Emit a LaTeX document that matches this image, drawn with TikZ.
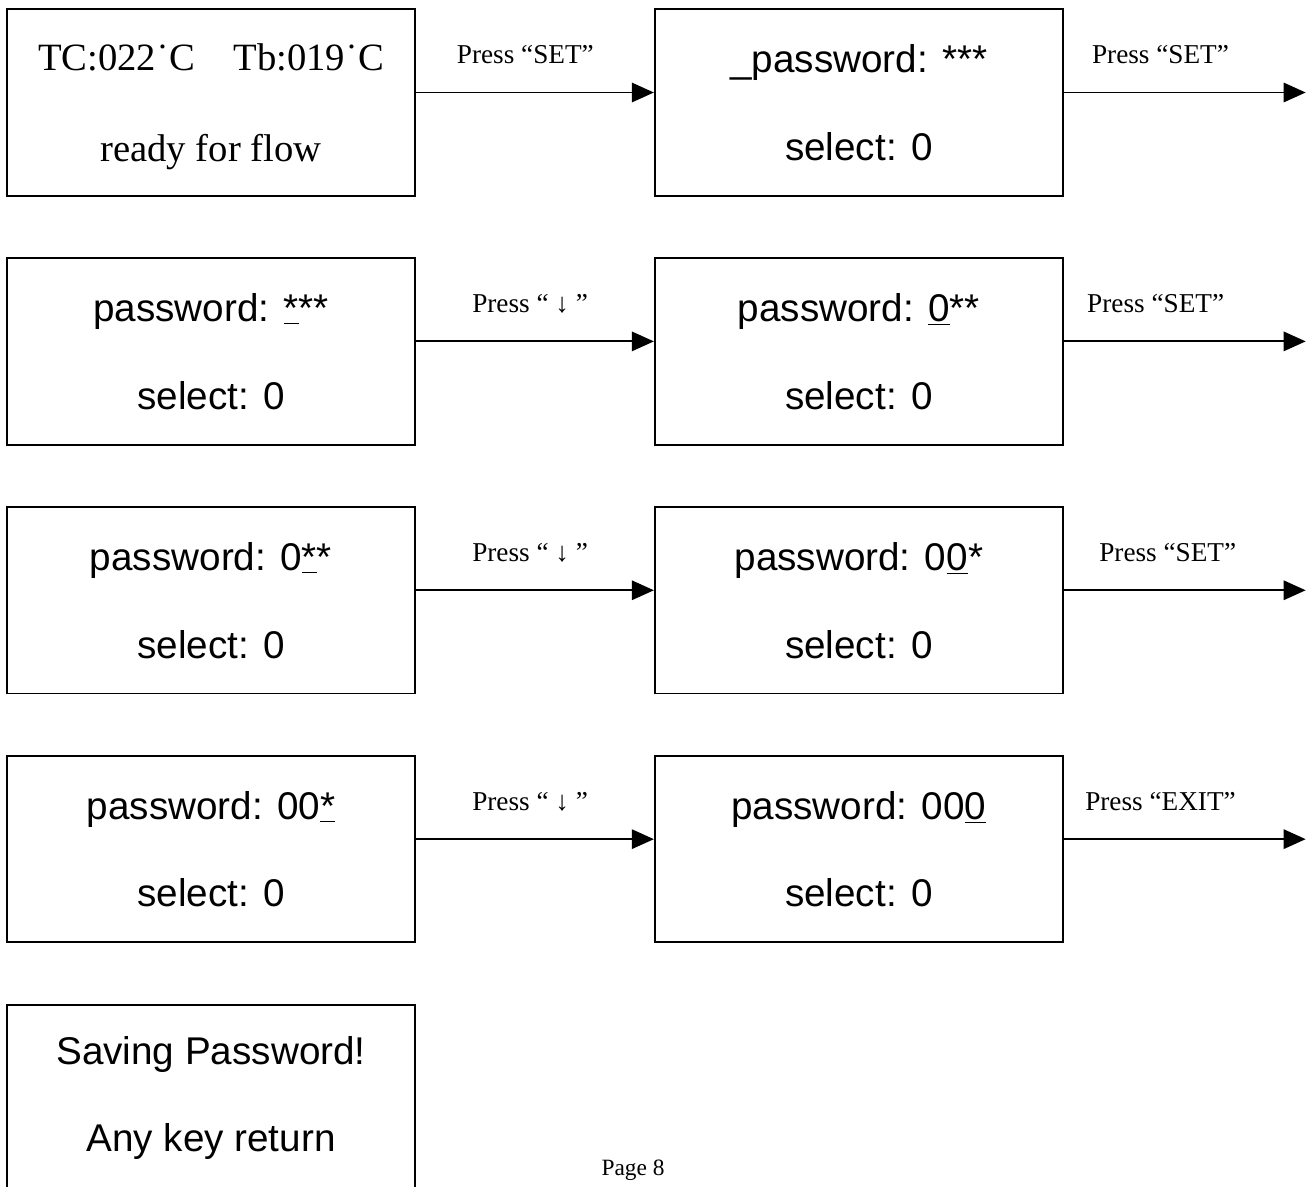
\documentclass[tikz,border=0pt]{standalone}
\usepackage{fontspec}
\setmainfont{Liberation Serif}
\setsansfont{Liberation Sans}
\usetikzlibrary{arrows.meta}
\usetikzlibrary{positioning}

\begin{document}
\begin{tikzpicture}[x=0.02cm, y=-0.02cm,
        screen/.style={draw, line width=1.1pt, minimum width=8.16cm,
            minimum height=3.73cm, align=center,
            font=\sffamily\fontsize{22}{50}\selectfont},
        keyarrow/.style={-{Triangle[length=12.5pt,width=11pt]}, line width=1.1pt},
        keylabel/.style={anchor=base, inner sep=0pt,
            font=\rmfamily\fontsize{15.5}{18}\selectfont}]
        \useasboundingbox (0, 0) rectangle (1309, 1187);

        % The screens
        \node[screen, font=\rmfamily\fontsize{22}{52}\selectfont] (ready) at (211, 102.5)
            {\rule{0pt}{20pt}TC:022˙C\hspace{1em}Tb:019˙C\\ready for flow};
        \node[screen, right=4.76cm of ready] (pwstart) {\_password: ***\\select: 0};
        \node[screen, below=1.21cm of ready] (pwa) {password: \underline{*}**\\select: 0};
        \node[screen, right=4.76cm of pwa] (pwb) {password: \underline{0}**\\select: 0};
        \node[screen, below=1.21cm of pwa] (pwc) {password: 0\underline{*}*\\select: 0};
        \node[screen, right=4.76cm of pwc] (pwd) {password: 0\underline{0}*\\select: 0};
        \node[screen, below=1.21cm of pwc] (pwe) {password: 00\underline{*}\\select: 0};
        \node[screen, right=4.76cm of pwe] (pwf) {password: 00\underline{0}\\select: 0};
        \node[screen, below=1.21cm of pwe] (saving) {Saving Password!\\Any key return};

        % The free ends on the right
        \coordinate (outa) at ([xshift=4.84cm, yshift=0.2cm]pwstart.east);
        \coordinate (outb) at ([xshift=4.84cm, yshift=0.2cm]pwb.east);
        \coordinate (outc) at ([xshift=4.84cm, yshift=0.2cm]pwd.east);
        \coordinate (outd) at ([xshift=4.84cm, yshift=0.2cm]pwf.east);

        % The key presses
        \draw[keyarrow] ([yshift=0.2cm]ready.east) -- ([yshift=0.2cm]pwstart.west)
            node[keylabel, pos=0.46, yshift=0.58cm] {Press “SET”};
        \draw[keyarrow] ([yshift=0.2cm]pwstart.east) -- (outa)
            node[keylabel, pos=0.4, yshift=0.58cm] {Press “SET”};
        \draw[keyarrow] ([yshift=0.2cm]pwa.east) -- ([yshift=0.2cm]pwb.west)
            node[keylabel, pos=0.48, yshift=0.58cm] {Press “ ↓ ”};
        \draw[keyarrow] ([yshift=0.2cm]pwb.east) -- (outb)
            node[keylabel, pos=0.38, yshift=0.58cm] {Press “SET”};
        \draw[keyarrow] ([yshift=0.2cm]pwc.east) -- ([yshift=0.2cm]pwd.west)
            node[keylabel, pos=0.48, yshift=0.58cm] {Press “ ↓ ”};
        \draw[keyarrow] ([yshift=0.2cm]pwd.east) -- (outc)
            node[keylabel, pos=0.43, yshift=0.58cm] {Press “SET”};
        \draw[keyarrow] ([yshift=0.2cm]pwe.east) -- ([yshift=0.2cm]pwf.west)
            node[keylabel, pos=0.48, yshift=0.58cm] {Press “ ↓ ”};
        \draw[keyarrow] ([yshift=0.2cm]pwf.east) -- (outd)
            node[keylabel, pos=0.4, yshift=0.58cm] {Press “EXIT”};

        % The page number
        \node[anchor=base, inner sep=0pt, font=\fontsize{13.3}{16}\selectfont] (page)
            at (633, 1175) {Page 8};
    \end{tikzpicture}
\end{document}
